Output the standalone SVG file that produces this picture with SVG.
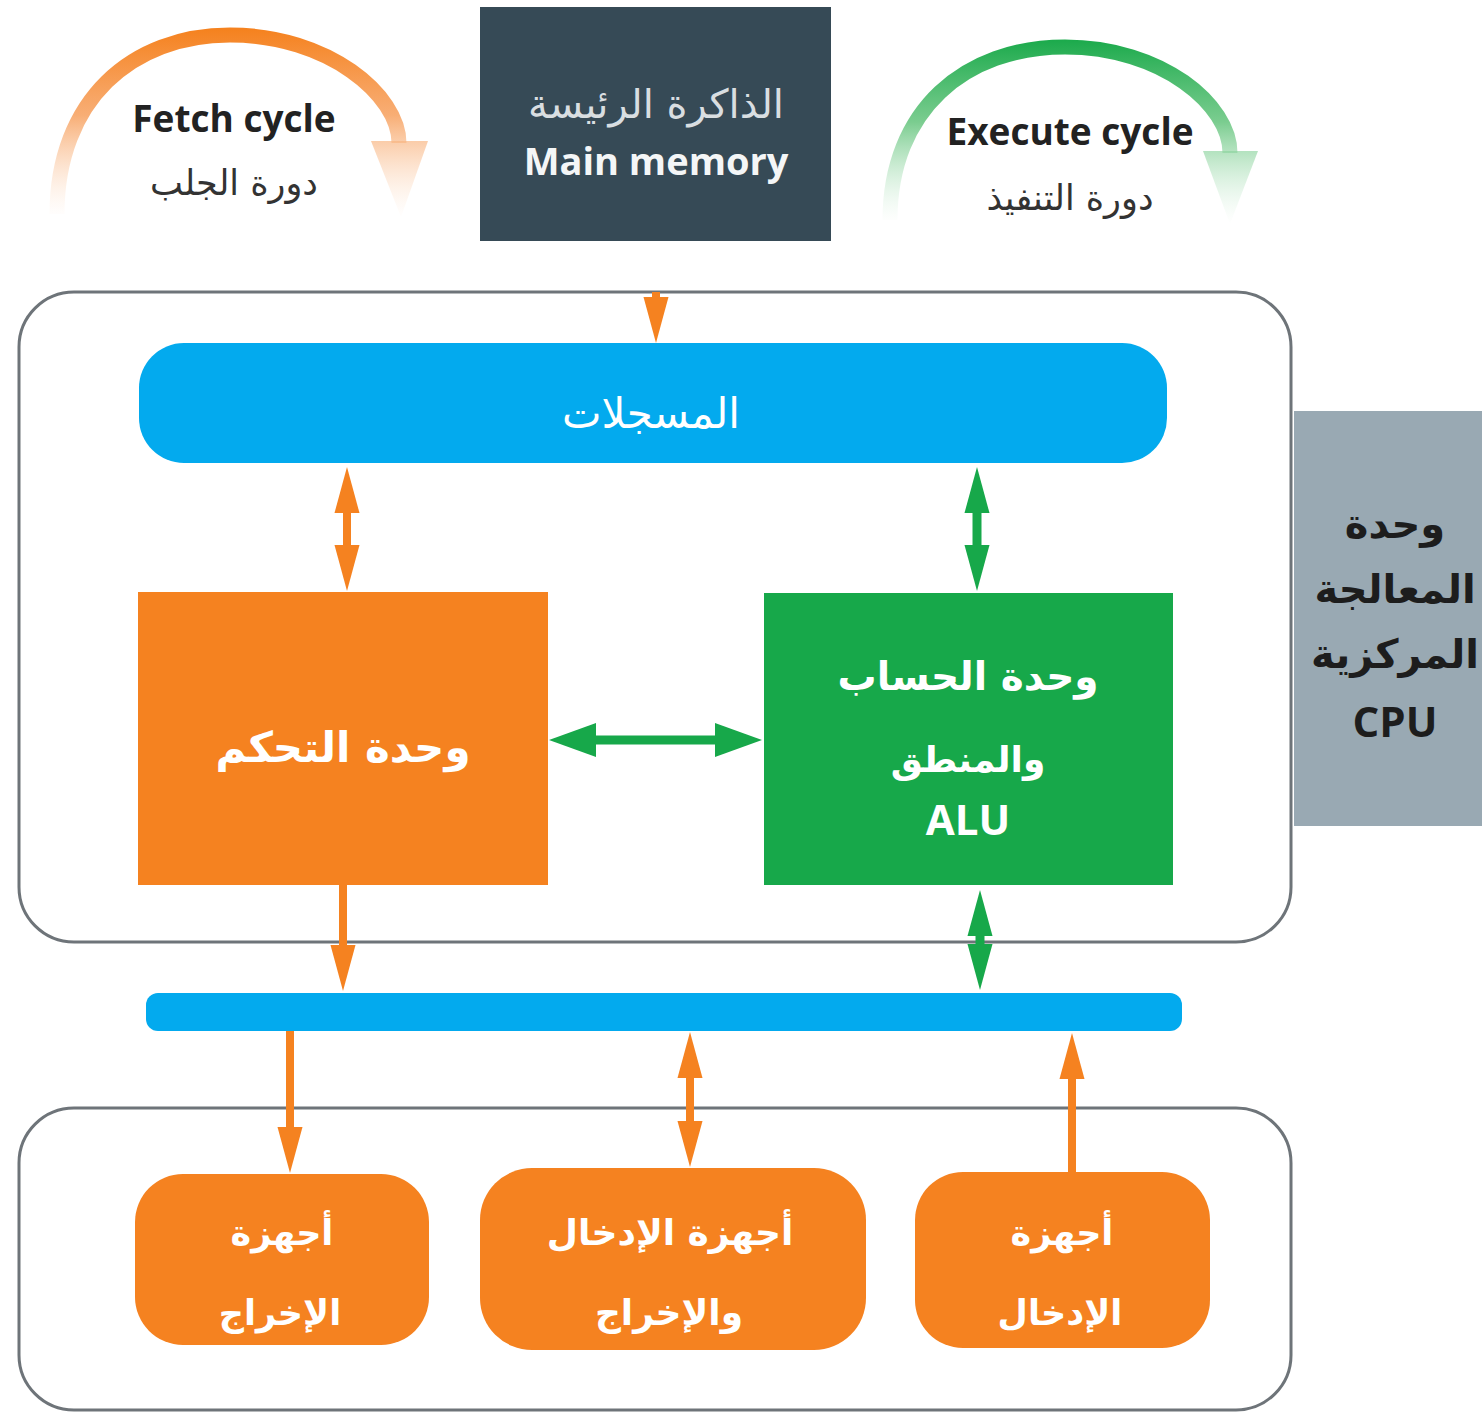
<svg xmlns="http://www.w3.org/2000/svg" width="1482" height="1414" viewBox="0 0 1482 1414">
  <defs>
    <style>
      .lat { font-family: 'Open Sans', 'Liberation Sans', sans-serif; font-weight: 700; }
      .ar { font-family: 'DejaVu Sans', 'Noto Sans', sans-serif; }
      .frame { fill: #ffffff; stroke: #6e7479; stroke-width: 3; }
      .orange { fill: #f58220; }
      .green { fill: #17a84a; }
      .blue { fill: #03aaee; }
      .oline { stroke: #f58220; stroke-width: 8; fill: none; }
      .gline { stroke: #17a84a; stroke-width: 9; fill: none; }
    </style>
    <linearGradient id="fetchGrad" gradientUnits="userSpaceOnUse" x1="0" y1="30" x2="0" y2="220">
      <stop offset="0" stop-color="#f5821f"/>
      <stop offset="0.45" stop-color="#f7a566" stop-opacity="0.9"/>
      <stop offset="1" stop-color="#fde3cf" stop-opacity="0"/>
    </linearGradient>
    <linearGradient id="execGrad" gradientUnits="userSpaceOnUse" x1="0" y1="38" x2="0" y2="225">
      <stop offset="0" stop-color="#19a94a"/>
      <stop offset="0.45" stop-color="#6cc783" stop-opacity="0.9"/>
      <stop offset="1" stop-color="#d6f0dc" stop-opacity="0"/>
    </linearGradient>
    <marker id="headO" markerUnits="userSpaceOnUse" viewBox="0 -13 46 26" markerWidth="46" markerHeight="26" refX="1" refY="0" orient="auto-start-reverse">
      <path d="M0,-12.5 L46,0 L0,12.5 Z" fill="#f58220"/>
    </marker>
    <marker id="headG" markerUnits="userSpaceOnUse" viewBox="0 -13 46 26" markerWidth="46" markerHeight="26" refX="1" refY="0" orient="auto-start-reverse">
      <path d="M0,-12.5 L46,0 L0,12.5 Z" fill="#17a84a"/>
    </marker>
    <marker id="headGw" markerUnits="userSpaceOnUse" viewBox="0 -17 47 34" markerWidth="47" markerHeight="34" refX="1" refY="0" orient="auto-start-reverse">
      <path d="M0,-17 L47,0 L0,17 Z" fill="#17a84a"/>
    </marker>
  </defs>

  <rect width="1482" height="1414" fill="#ffffff"/>

  <!-- fetch cycle loop -->
  <g id="fetch-cycle">
    <path d="M57,214 C57,100 132,35 230,35 C328,35 399,95 399,143" fill="none" stroke="url(#fetchGrad)" stroke-width="15"/>
    <polygon points="371,141 428,141 401,217" fill="url(#fetchGrad)"/>
    <text x="234" y="132" class="lat" font-size="37" fill="#222222" text-anchor="middle">Fetch cycle</text>
    <text x="234" y="195" class="ar" font-size="35" fill="#333333" text-anchor="middle">دورة الجلب</text>
  </g>

  <!-- execute cycle loop -->
  <g id="execute-cycle">
    <path d="M890,220 C890,110 965,47 1065,47 C1162,47 1230,105 1230,153" fill="none" stroke="url(#execGrad)" stroke-width="15"/>
    <polygon points="1203,151 1258,151 1230,224" fill="url(#execGrad)"/>
    <text x="1070" y="145" class="lat" font-size="37" fill="#222222" text-anchor="middle">Execute cycle</text>
    <text x="1070" y="210" class="ar" font-size="35" fill="#333333" text-anchor="middle">دورة التنفيذ</text>
  </g>

  <!-- main memory -->
  <g id="main-memory">
    <rect x="480" y="7" width="351" height="234" fill="#364a56"/>
    <text x="656" y="118" class="ar" font-size="40" fill="#d9dee1" text-anchor="middle">الذاكرة الرئيسة</text>
    <text x="656" y="175" class="lat" font-size="38" fill="#f4f6f7" text-anchor="middle">Main memory</text>
  </g>

  <!-- CPU frame and label -->
  <g id="cpu">
    <rect x="19" y="292" width="1272" height="650" rx="55" class="frame"/>
    <rect x="1294" y="411" width="188" height="415" fill="#99a9b3"/>
    <text x="1395" y="538" class="ar" font-size="40" font-weight="700" fill="#1d1d1d" text-anchor="middle">وحدة</text>
    <text x="1395" y="603" class="ar" font-size="40" font-weight="700" fill="#1d1d1d" text-anchor="middle">المعالجة</text>
    <text x="1395" y="668" class="ar" font-size="40" font-weight="700" fill="#1d1d1d" text-anchor="middle">المركزية</text>
    <text x="1395" y="737" class="lat" font-size="42" fill="#1d1d1d" text-anchor="middle">CPU</text>
  </g>

  <!-- registers -->
  <g id="registers">
    <rect x="139" y="343" width="1028" height="120" rx="45" class="blue"/>
    <text x="651" y="428" class="ar" font-size="42" fill="#ffffff" text-anchor="middle">المسجلات</text>
  </g>

  <!-- control unit -->
  <g id="control-unit">
    <rect x="138" y="592" width="410" height="293" class="orange"/>
    <text x="343" y="762" class="ar" font-size="42" font-weight="700" fill="#ffffff" text-anchor="middle">وحدة التحكم</text>
  </g>

  <!-- arithmetic logic unit -->
  <g id="alu">
    <rect x="764" y="593" width="409" height="292" class="green"/>
    <text x="968" y="690" class="ar" font-size="39" font-weight="700" fill="#ffffff" text-anchor="middle">وحدة الحساب</text>
    <text x="968" y="772" class="ar" font-size="36" font-weight="700" fill="#ffffff" text-anchor="middle">والمنطق</text>
    <text x="968" y="835" class="lat" font-size="42" fill="#ffffff" text-anchor="middle">ALU</text>
  </g>

  <!-- system bus -->
  <g id="bus">
    <rect x="146" y="993" width="1036" height="38" rx="12" class="blue"/>
  </g>

  <!-- peripherals frame -->
  <g id="peripherals">
    <rect x="19" y="1108" width="1272" height="302" rx="55" class="frame"/>
  </g>

  <g id="output-devices">
    <rect x="135" y="1174" width="294" height="171" rx="48" class="orange"/>
    <text x="282" y="1245" class="ar" font-size="35" font-weight="700" fill="#ffffff" text-anchor="middle">أجهزة</text>
    <text x="280" y="1325" class="ar" font-size="35" font-weight="700" fill="#ffffff" text-anchor="middle">الإخراج</text>
  </g>

  <g id="io-devices">
    <rect x="480" y="1168" width="386" height="182" rx="52" class="orange"/>
    <text x="670" y="1245" class="ar" font-size="36" font-weight="700" fill="#ffffff" text-anchor="middle">أجهزة الإدخال</text>
    <text x="669" y="1325" class="ar" font-size="36" font-weight="700" fill="#ffffff" text-anchor="middle">والإخراج</text>
  </g>

  <g id="input-devices">
    <rect x="915" y="1172" width="295" height="176" rx="48" class="orange"/>
    <text x="1062" y="1245" class="ar" font-size="35" font-weight="700" fill="#ffffff" text-anchor="middle">أجهزة</text>
    <text x="1060" y="1325" class="ar" font-size="35" font-weight="700" fill="#ffffff" text-anchor="middle">الإدخال</text>
  </g>

  <!-- connectors -->
  <g id="connectors">
    <line x1="656" y1="292" x2="656" y2="298" class="oline" marker-end="url(#headO)"/>
    <line x1="347" y1="512" x2="347" y2="546" class="oline" marker-start="url(#headO)" marker-end="url(#headO)"/>
    <line x1="977" y1="512" x2="977" y2="546" class="gline" marker-start="url(#headG)" marker-end="url(#headG)"/>
    <line x1="595" y1="740" x2="716" y2="740" class="gline" marker-start="url(#headGw)" marker-end="url(#headGw)"/>
    <line x1="343" y1="885" x2="343" y2="946" class="oline" marker-end="url(#headO)"/>
    <line x1="980" y1="935" x2="980" y2="945" class="gline" marker-start="url(#headG)" marker-end="url(#headG)"/>
    <line x1="290" y1="1031" x2="290" y2="1128" class="oline" marker-end="url(#headO)"/>
    <line x1="690" y1="1077" x2="690" y2="1122" class="oline" marker-start="url(#headO)" marker-end="url(#headO)"/>
    <line x1="1072" y1="1172" x2="1072" y2="1078" class="oline" marker-end="url(#headO)"/>
  </g>
</svg>
